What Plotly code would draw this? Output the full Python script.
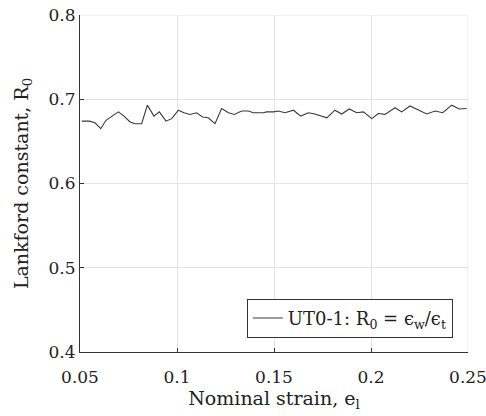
import plotly.graph_objects as go

strain = [0.0509, 0.0548, 0.0577, 0.0607, 0.0634, 0.0663, 0.0698, 0.0727, 0.0758, 0.0784,
          0.0818, 0.0847, 0.0881, 0.0909, 0.0943, 0.0973, 0.1007, 0.1036, 0.1067, 0.1101,
          0.1132, 0.1161, 0.1196, 0.1230, 0.1265, 0.1296, 0.1333, 0.1368, 0.1393, 0.1445,
          0.1462, 0.1497, 0.1522, 0.1557, 0.1600, 0.1638, 0.1677, 0.1711, 0.1746, 0.1772,
          0.1814, 0.1849, 0.1888, 0.1926, 0.1961, 0.2004, 0.2038, 0.2072, 0.2124, 0.2158,
          0.2201, 0.2244, 0.2287, 0.2330, 0.2370, 0.2416, 0.2455, 0.2493]
r0 = [0.674, 0.674, 0.672, 0.665, 0.675, 0.680, 0.685, 0.680, 0.673, 0.671,
      0.671, 0.693, 0.680, 0.685, 0.674, 0.677, 0.687, 0.684, 0.682, 0.684,
      0.679, 0.678, 0.671, 0.689, 0.684, 0.682, 0.686, 0.686, 0.684, 0.684,
      0.685, 0.685, 0.686, 0.684, 0.687, 0.680, 0.684, 0.6825, 0.680, 0.678,
      0.687, 0.6825, 0.6885, 0.684, 0.685, 0.677, 0.683, 0.682, 0.690, 0.685,
      0.692, 0.687, 0.6825, 0.686, 0.684, 0.693, 0.6885, 0.689]

x_ticks = [0.05, 0.1, 0.15, 0.2, 0.25]
x_tick_labels = ["0.05", "0.1", "0.15", "0.2", "0.25"]
y_ticks = [0.4, 0.5, 0.6, 0.7, 0.8]
y_tick_labels = ["0.4", "0.5", "0.6", "0.7", "0.8"]

FONT = "DejaVu Serif"
GRID = "#e3e3e3"

fig = go.Figure()
fig.add_trace(go.Scatter(
    x=strain, y=r0, mode="lines",
    line=dict(color="#3a3a3a", width=1.1),
    name="UT0-1: R<sub>0</sub> = ϵ<sub>w</sub>/ϵ<sub>t</sub>",
    showlegend=True,
))

axis_common = dict(
    showgrid=True, gridcolor=GRID, gridwidth=1,
    showline=True, linecolor="#333333", linewidth=1,
    ticks="inside", ticklen=4, tickcolor="#333333",
    zeroline=False, mirror=False,
    ticklabeloverflow="allow", automargin=False,
    tickfont=dict(family=FONT, size=17, color="#222222"),
)

fig.update_xaxes(range=[x_ticks[0], x_ticks[-1]], tickvals=x_ticks, ticktext=x_tick_labels,
                 ticklabelstandoff=10,
                 title=dict(text="Nominal strain, e<sub>l</sub>",
                            font=dict(family=FONT, size=19, color="#222222"), standoff=2),
                 **axis_common)
fig.update_yaxes(range=[y_ticks[0], y_ticks[-1]], tickvals=y_ticks, ticktext=y_tick_labels,
                 title=dict(text="Lankford constant, R<sub>0</sub>",
                            font=dict(family=FONT, size=19, color="#222222"), standoff=14),
                 **axis_common)

# right and top boundary gridlines (plotly culls gridlines at the range edges)
fig.add_shape(type="line", xref="x", yref="paper", x0=x_ticks[-1], x1=x_ticks[-1], y0=0, y1=1,
              line=dict(color=GRID, width=1), layer="below")
fig.add_shape(type="line", xref="paper", yref="y", x0=0, x1=1, y0=y_ticks[-1], y1=y_ticks[-1],
              line=dict(color=GRID, width=1), layer="below")

fig.update_layout(
    width=486, height=416,
    margin=dict(l=80, r=18, t=15, b=64),
    paper_bgcolor="white", plot_bgcolor="white",
    font=dict(family=FONT, size=19, color="#222222"),
    legend=dict(x=0.961, y=0.042, xanchor="right", yanchor="bottom",
                bgcolor="white", bordercolor="#333333", borderwidth=1,
                font=dict(family=FONT, size=18, color="#222222"),
                itemwidth=30, tracegroupgap=0),
)

fig.write_html("out.html")
